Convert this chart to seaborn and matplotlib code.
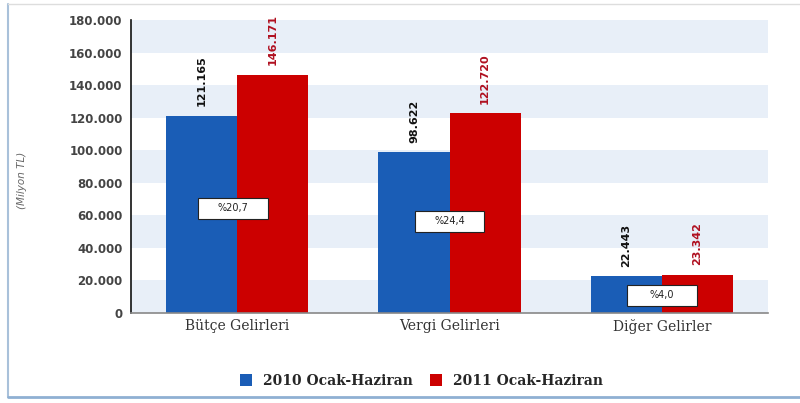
import matplotlib
matplotlib.use("Agg")
import matplotlib.pyplot as plt
import matplotlib.patches as mpatches
from matplotlib.lines import Line2D
import seaborn as sns
import pandas as pd

categories = ["Bütçe Gelirleri", "Vergi Gelirleri", "Diğer Gelirler"]
series = ["2010 Ocak-Haziran", "2011 Ocak-Haziran"]
values_2010 = [121165, 98622, 22443]
values_2011 = [146171, 122720, 23342]
labels_2010 = ["121.165", "98.622", "22.443"]
labels_2011 = ["146.171", "122.720", "23.342"]
change_labels = ["%20,7", "%24,4", "%4,0"]
change_label_y = [64500, 56500, 11000]
yticks = [0, 20000, 40000, 60000, 80000, 100000, 120000, 140000, 160000, 180000]
ytick_labels = ["0", "20.000", "40.000", "60.000", "80.000", "100.000",
                "120.000", "140.000", "160.000", "180.000"]

df = pd.DataFrame({
    "Kategori": categories * 2,
    "Dönem": [series[0]] * 3 + [series[1]] * 3,
    "Değer": values_2010 + values_2011,
})

sns.set_theme(style="white")
plt.rcParams["font.family"] = ["DejaVu Sans"]

colors = ["#1a5db6", "#cc0000"]
fig = plt.figure(figsize=(8.0, 4.03), dpi=100)
ax = fig.add_axes([131 / 800, 1 - 313 / 403, (768 - 131) / 800, (313 - 20) / 403])

# alternating background bands
for i in range(0, 9):
    if i % 2 == 0:
        ax.axhspan(i * 20000, (i + 1) * 20000, color="#e8eff8", zorder=0, lw=0)

sns.barplot(data=df, x="Kategori", y="Değer", hue="Dönem", palette=colors,
            width=0.67, gap=0, saturation=1, ax=ax, legend=False, zorder=2,
            edgecolor="none", linewidth=0)

ax.set_xlim(-0.5, 2.5)
ax.set_ylim(0, 180000)
ax.set_yticks(yticks)
ax.set_yticklabels(ytick_labels, fontsize=8.5, fontweight="semibold", color="#444444")
ax.set_xticks(range(len(categories)))
ax.set_xticklabels(categories, fontsize=10, family="DejaVu Serif", color="#333333")
ax.tick_params(axis="x", length=0, pad=4)
ax.tick_params(axis="y", length=0, pad=6)
ax.set_xlabel("")
ax.set_ylabel("")
for s in ["top", "right"]:
    ax.spines[s].set_visible(False)
ax.spines["left"].set_color("#111111")
ax.spines["left"].set_linewidth(1.2)
ax.spines["bottom"].set_color("#888888")
ax.spines["bottom"].set_linewidth(1.2)
ax.set_facecolor("white")

# value labels
bw = 0.67 / 2
for i in range(len(categories)):
    ax.annotate(labels_2010[i], (i - bw / 2, values_2010[i]), xytext=(0, 7),
                textcoords="offset points", rotation=90, ha="center", va="bottom",
                fontsize=8, fontweight="bold", color="#111111", zorder=5)
    ax.annotate(labels_2011[i], (i + bw / 2, values_2011[i]), xytext=(0, 7),
                textcoords="offset points", rotation=90, ha="center", va="bottom",
                fontsize=8, fontweight="bold", color="#b01020", zorder=5)

# change boxes
box_w = 70 / 212.5
box_h = 21 / 293 * 180000
for i in range(len(categories)):
    cx = i - 0.02 if i == 0 else i
    rect = mpatches.Rectangle((cx - box_w / 2, change_label_y[i] - box_h / 2), box_w, box_h,
                              facecolor="white", edgecolor="#222222", lw=0.8, zorder=6)
    ax.add_patch(rect)
    ax.text(cx, change_label_y[i], change_labels[i], ha="center", va="center",
            fontsize=7, color="#222222", zorder=7)

# y label
fig.text(22 / 800, 1 - 180 / 403, "(Milyon TL)", rotation=90, ha="center", va="center",
         fontsize=7.5, style="italic", color="#666666")

# legend
handles = [mpatches.Patch(facecolor=c, edgecolor="none") for c in colors]
leg = fig.legend(handles, series, loc="center", bbox_to_anchor=(0.527, 1 - 381 / 403),
                 ncol=2, frameon=False, handlelength=0.9, handleheight=0.9,
                 handletextpad=0.8, columnspacing=1.2,
                 prop={"family": "DejaVu Serif", "weight": "bold", "size": 10})

# figure frame
fig.add_artist(Line2D([8 / 800, 8 / 800], [1 - 397 / 403, 1 - 4 / 403],
                      transform=fig.transFigure, color="#a9c1da", lw=1.5))
fig.add_artist(Line2D([8 / 800, 1.0], [1 - 397 / 403, 1 - 397 / 403],
                      transform=fig.transFigure, color="#8fb0d3", lw=2))
fig.add_artist(Line2D([8 / 800, 1.0], [1 - 4 / 403, 1 - 4 / 403],
                      transform=fig.transFigure, color="#dddddd", lw=1))

fig.savefig("out.png", dpi=100)
